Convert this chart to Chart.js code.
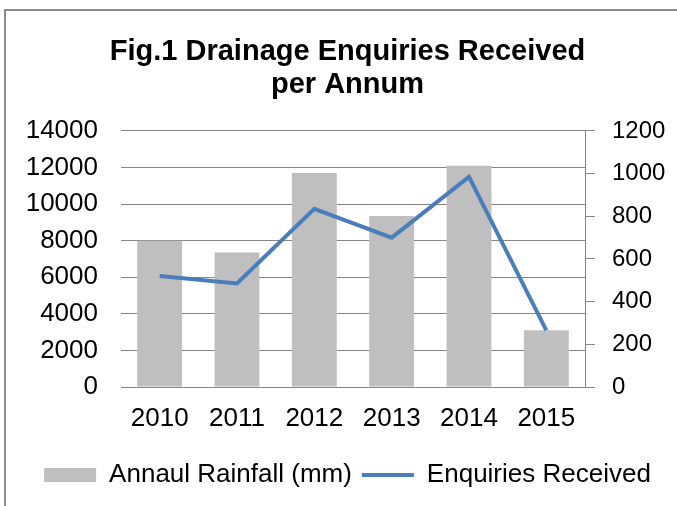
<!DOCTYPE html>
<html>
<head>
<meta charset="utf-8">
<script src="https://cdn.jsdelivr.net/npm/chart.js@4.4.0/dist/chart.umd.min.js"></script>
<style>
  html, body { margin: 0; padding: 0; background: #fff; }
  #wrap { position: relative; width: 677px; height: 506px; overflow: hidden; }
  #frame { position: absolute; left: 4px; top: 9px; width: 700px; height: 520px; border: 2px solid #8c8c8c; box-sizing: border-box; }
  #box { position: absolute; left: 0; top: 0; width: 677px; height: 506px; }
</style>
</head>
<body>
<div id="wrap">
  <div id="frame"></div>
  <div id="box"><canvas id="drainChart"></canvas></div>
</div>
<script>
// data
const years = ['2010', '2011', '2012', '2013', '2014', '2015'];
const rainfall = [8000, 7350, 11700, 9350, 12100, 3100];
const enquiries = [520, 485, 835, 700, 985, 265];

const fontFam = "'Liberation Sans', Arial, sans-serif";

const ctx = document.getElementById('drainChart');
const drainChart = new Chart(ctx, {
    type: 'bar',
    data: {
        labels: years,
        datasets: [{
            type: 'line',
            label: 'Enquiries Received',
            data: enquiries,
            yAxisID: 'y1',
            borderColor: '#4a7ebb',
            backgroundColor: '#4a7ebb',
            borderWidth: 4,
            pointRadius: 0,
            pointStyle: 'line',
            tension: 0
        },
        {
            label: 'Annaul Rainfall (mm)',
            data: rainfall,
            yAxisID: 'y',
            backgroundColor: '#bfbfbf',
            borderWidth: 0,
            pointStyle: 'rect',
            barPercentage: 0.58,
            categoryPercentage: 1
        }]
    },
    options: {
        responsive: true,
        maintainAspectRatio: false,
        animation: false,
        layout: {
            padding: { left: 18, right: 0, top: 8, bottom: 8 }
        },
        scales: {
            x: {
                grid: { display: false, drawTicks: false },
                border: { display: true, color: '#868686', width: 1 },
                ticks: { color: '#000', font: { family: fontFam, size: 26 }, padding: 16 },
                afterFit: function (axis) { axis.height = 65; }
            },
            y: {
                position: 'left',
                min: 0,
                max: 14000,
                ticks: {
                    stepSize: 2000, color: '#000', padding: 23,
                    font: { family: fontFam, size: 26 },
                    callback: function (v) { return v; }
                },
                grid: { color: '#868686', lineWidth: 1, drawTicks: false },
                border: { display: false },
                afterFit: function (axis) { axis.width = 103; }
            },
            y1: {
                position: 'right',
                min: 0,
                max: 1200,
                ticks: {
                    stepSize: 200, color: '#000', padding: 17,
                    font: { family: fontFam, size: 24 },
                    callback: function (v) { return v; }
                },
                grid: { drawOnChartArea: false, color: '#868686', tickLength: 10 },
                border: { display: true, color: '#868686', width: 1 },
                afterFit: function (axis) { axis.width = 92; }
            }
        },
        plugins: {
            legend: {
                display: true,
                position: 'bottom',
                reverse: true,
                labels: {
                    usePointStyle: true,
                    pointStyleWidth: 52,
                    boxHeight: 14,
                    color: '#000',
                    padding: 10,
                    font: { family: fontFam, size: 26 }
                }
            },
            title: {
                display: true,
                position: 'top',
                text: ['Fig.1 Drainage Enquiries Received', 'per Annum'],
                color: '#000',
                font: { family: fontFam, size: 29, weight: 'bold', lineHeight: 1.12 },
                padding: { top: 28, bottom: 30 }
            },
            tooltip: { enabled: false }
        }
    }
});
</script>
</body>
</html>
